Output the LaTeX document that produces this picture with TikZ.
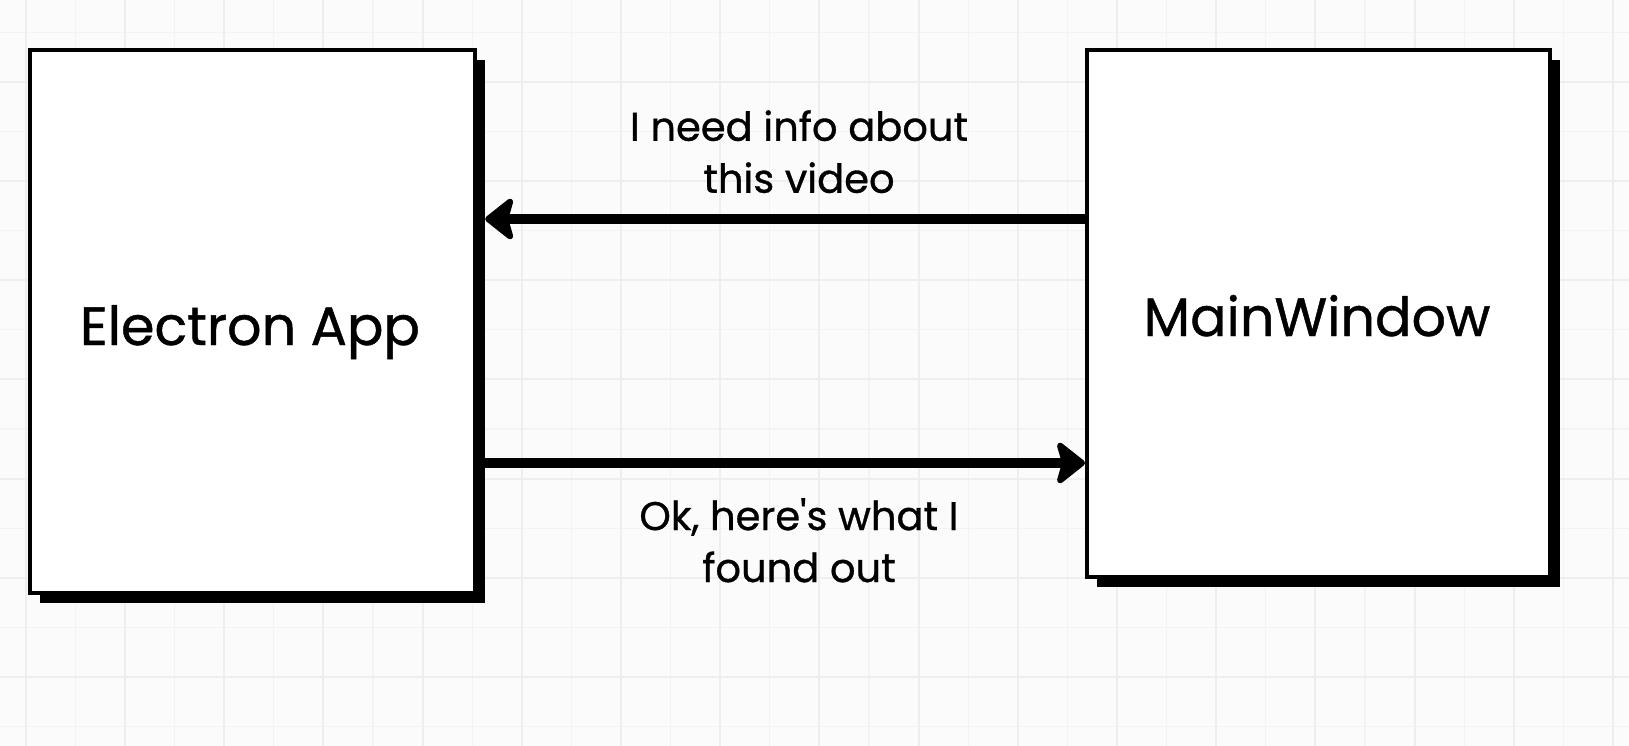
\documentclass[tikz,border=0pt]{standalone}
\usepackage{fontspec}
\setmainfont{Poppins}[FakeBold=0.8]
\usetikzlibrary{arrows.meta,shadows}
\definecolor{bgcol}{HTML}{FBFBFB}
\definecolor{gridminor}{HTML}{F3F3F3}
\definecolor{gridmajor}{HTML}{EEEEEE}
\begin{document}
\begin{tikzpicture}[x=1pt,y=-1pt,
  box/.style={draw=black, fill=white, line width=4.5pt, rectangle, inner sep=0pt,
    drop shadow={shadow xshift=10pt, shadow yshift=-10pt, fill=black, opacity=1}},
  boxtext/.style={font=\fontsize{54}{66}\selectfont, inner sep=0pt, anchor=base},
  msg/.style={font=\fontsize{40}{52}\selectfont, align=center, inner sep=0pt, anchor=north},
  conn/.style={line width=10pt, -{Stealth[length=32pt,width=50pt,inset=7pt,round]}},
  gminor/.style={draw=gridminor, line width=1.2pt},
  gmajor/.style={draw=gridmajor, line width=2pt},
]
\fill[bgcol] (0,0) rectangle (1629,746);
\useasboundingbox (0,0) rectangle (1629,746);
\foreach \k in {0,...,32}{\draw[gminor] ({25.7+49.6*\k},0) -- ({25.7+49.6*\k},746);}
\foreach \k in {0,...,14}{\draw[gminor] (0,{32.2+49.6*\k}) -- (1629,{32.2+49.6*\k});}
\foreach \k in {0,2,...,32}{\draw[gmajor] ({25.7+49.6*\k},0) -- ({25.7+49.6*\k},746);}
\foreach \k in {1,3,...,13}{\draw[gmajor] (0,{32.2+49.6*\k}) -- (1629,{32.2+49.6*\k});}

\node[box, minimum width=444.75pt, minimum height=542.75pt] (ea) at (252.6,321.6) {};
\node[box, minimum width=462.75pt, minimum height=526.75pt] (mw) at (1318.6,313.6) {};
\node[boxtext] (eat) at (250,345) {Electron App};
\node[boxtext] (mwt) at (1317,336) {MainWindow};

\draw[conn, shorten >=8pt] (mw.west |- 0,219) -- (ea.east |- 0,219);
\draw[conn, shorten <=8pt] (ea.east |- 0,463) -- (mw.west |- 0,463);

\node[msg] (req) at (799,110) {I need info about\\this video};
\node[msg] (rep) at (799,498) {Ok, here\textquotesingle s what I\\found out};
\end{tikzpicture}
\end{document}
